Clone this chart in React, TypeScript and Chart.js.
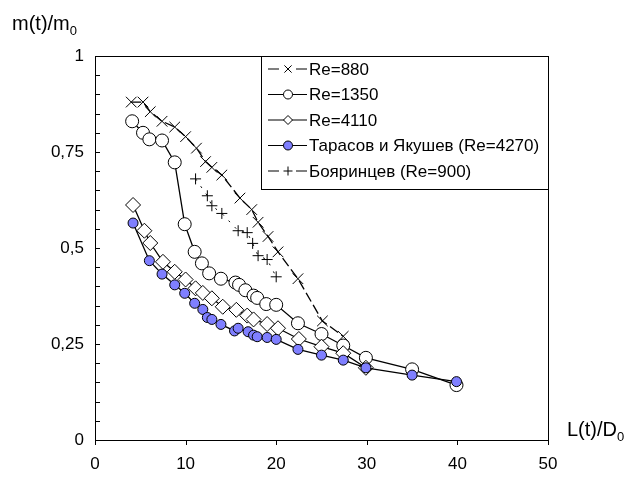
import React, { useEffect, useRef } from 'react';
import { Chart, registerables } from 'chart.js';

Chart.register(...registerables);

// ---------- data ----------
const re880X = [4.0, 5.3, 6.1, 7.4, 8.8, 10.0, 11.2, 12.2, 12.9, 14.0, 16.0, 17.3, 18.0, 19.1, 20.2, 22.4, 25.1, 27.4];
const re880Y = [0.88, 0.88, 0.855, 0.83, 0.815, 0.79, 0.76, 0.725, 0.71, 0.69, 0.63, 0.60, 0.567, 0.53, 0.49, 0.42, 0.31, 0.27];

const re1350X = [4.1, 5.3, 6.0, 7.4, 8.8, 9.9, 11.0, 11.8, 12.6, 13.9, 15.5, 15.9, 16.6, 17.5, 17.9, 18.9, 20.0, 22.4, 25.0, 27.4, 29.9, 35.0, 39.9];
const re1350Y = [0.83, 0.80, 0.783, 0.78, 0.723, 0.562, 0.49, 0.46, 0.434, 0.42, 0.41, 0.404, 0.39, 0.376, 0.37, 0.354, 0.352, 0.304, 0.276, 0.246, 0.214, 0.184, 0.143];

const re4110X = [4.2, 5.45, 6.1, 7.5, 8.8, 10.0, 11.1, 11.9, 12.9, 14.1, 15.6, 16.8, 17.5, 19.0, 20.2, 22.5, 25.0, 27.4, 29.9];
const re4110Y = [0.612, 0.545, 0.513, 0.464, 0.438, 0.418, 0.395, 0.383, 0.369, 0.347, 0.339, 0.324, 0.314, 0.302, 0.291, 0.263, 0.243, 0.226, 0.188];

const tarasovX = [4.2, 6.0, 7.4, 8.8, 9.9, 11.0, 11.9, 12.4, 12.9, 13.9, 15.4, 15.8, 16.9, 17.5, 17.9, 19.0, 20.0, 22.4, 25.0, 27.4, 29.9, 35.0, 39.9];
const tarasovY = [0.565, 0.467, 0.432, 0.404, 0.382, 0.356, 0.34, 0.319, 0.314, 0.301, 0.284, 0.291, 0.282, 0.273, 0.269, 0.267, 0.262, 0.236, 0.221, 0.208, 0.188, 0.169, 0.152];

const boyarX = [11.1, 12.4, 12.9, 14.0, 15.8, 16.8, 17.4, 18.0, 19.0, 20.0];
const boyarY = [0.68, 0.636, 0.61, 0.59, 0.545, 0.54, 0.512, 0.48, 0.47, 0.425];

const seriesNames = ['Re=880', 'Re=1350', 'Re=4110', 'Тарасов и Якушев (Re=4270)', 'Бояринцев (Re=900)'];

const xMin = 0, xMax = 50, xStep = 10;
const yMin = 0, yMax = 1, yMinorStep = 0.05, yMajorStep = 0.25;

const yAxisTitle = 'm(t)/m';
const yAxisSub = '0';
const xAxisTitle = 'L(t)/D';
const xAxisSub = '0';

const FONT = '"Liberation Sans", Arial, Helvetica, sans-serif';
const BLUE = '#7f7fff';

function pts(xs: number[], ys: number[]) {
  return xs.map((x, i) => ({ x, y: ys[i] }));
}

function drawMarker(ctx: CanvasRenderingContext2D, style: string, x: number, y: number, r: number, fill: string) {
  ctx.save();
  ctx.strokeStyle = '#000';
  ctx.lineWidth = 1;
  ctx.setLineDash([]);
  ctx.beginPath();
  if (style === 'circle') {
    ctx.arc(x, y, r, 0, Math.PI * 2);
    ctx.fillStyle = fill;
    ctx.fill();
    ctx.stroke();
  } else if (style === 'rectRot') {
    ctx.moveTo(x, y - r);
    ctx.lineTo(x + r, y);
    ctx.lineTo(x, y + r);
    ctx.lineTo(x - r, y);
    ctx.closePath();
    ctx.fillStyle = fill;
    ctx.fill();
    ctx.stroke();
  } else if (style === 'crossRot') {
    const d = r * 0.8;
    ctx.moveTo(x - d, y - d);
    ctx.lineTo(x + d, y + d);
    ctx.moveTo(x + d, y - d);
    ctx.lineTo(x - d, y + d);
    ctx.stroke();
  } else if (style === 'cross') {
    ctx.moveTo(x - r, y);
    ctx.lineTo(x + r, y);
    ctx.moveTo(x, y - r);
    ctx.lineTo(x, y + r);
    ctx.stroke();
  }
  ctx.restore();
}

const framePlugin = {
  id: 'frameAndLegend',
  afterDraw(chart: any) {
    const ctx: CanvasRenderingContext2D = chart.ctx;
    const { left, right, top, bottom } = chart.chartArea;
    const xs = chart.scales.x;
    const ys = chart.scales.y;
    ctx.save();
    // frame
    ctx.strokeStyle = '#000';
    ctx.lineWidth = 1;
    ctx.strokeRect(Math.round(left) + 0.5, Math.round(top) + 0.5, Math.round(right - left), Math.round(bottom - top));
    // y ticks (inside)
    ctx.beginPath();
    for (let v = yMin; v <= yMax + 1e-9; v += yMinorStep) {
      const py = Math.round(ys.getPixelForValue(v)) + 0.5;
      ctx.moveTo(left, py);
      ctx.lineTo(left + 5, py);
    }
    // x ticks (outside)
    for (let v = xMin; v <= xMax + 1e-9; v += xStep) {
      const px = Math.round(xs.getPixelForValue(v)) + 0.5;
      ctx.moveTo(px, bottom);
      ctx.lineTo(px, bottom + 5);
    }
    ctx.stroke();

    // axis titles
    ctx.fillStyle = '#000';
    ctx.textBaseline = 'alphabetic';
    ctx.textAlign = 'left';
    ctx.font = `20px ${FONT}`;
    ctx.fillText(yAxisTitle, 12, 30);
    let w = ctx.measureText(yAxisTitle).width;
    ctx.font = `13px ${FONT}`;
    ctx.fillText(yAxisSub, 12 + w, 35);

    ctx.font = `20px ${FONT}`;
    ctx.fillText(xAxisTitle, 567, 436);
    w = ctx.measureText(xAxisTitle).width;
    ctx.font = `13px ${FONT}`;
    ctx.fillText(xAxisSub, 567 + w, 441);

    // legend box
    const lx = left + 166;
    const ly = top;
    const lw = right - lx;
    const lh = 133;
    ctx.fillStyle = '#fff';
    ctx.fillRect(lx, ly, lw, lh);
    ctx.strokeStyle = '#000';
    ctx.lineWidth = 1;
    ctx.strokeRect(Math.round(lx) + 0.5, Math.round(ly) + 0.5, Math.round(lw), Math.round(lh));

    const datasets = chart.data.datasets;
    for (let i = 0; i < datasets.length; i++) {
      const ds = datasets[i];
      const cy = ly + 13 + i * 25.5;
      const x0 = lx + 7, x1 = lx + 46, mx = lx + 27;
      ctx.save();
      ctx.strokeStyle = '#000';
      ctx.lineWidth = 1.2;
      ctx.beginPath();
      if (ds.borderDash && ds.borderDash.length) {
        ctx.moveTo(x0, cy); ctx.lineTo(x0 + 11, cy);
        ctx.moveTo(x1 - 11, cy); ctx.lineTo(x1, cy);
      } else {
        ctx.moveTo(x0, cy); ctx.lineTo(x1, cy);
      }
      ctx.stroke();
      ctx.restore();
      drawMarker(ctx, ds.pointStyle, mx, cy, 4.5, ds.pointBackgroundColor);
      ctx.fillStyle = '#000';
      ctx.font = `17px ${FONT}`;
      ctx.textBaseline = 'middle';
      ctx.textAlign = 'left';
      ctx.fillText(ds.label, lx + 48, cy + 1);
    }
    ctx.restore();
  },
};

function fmtY(v: number) {
  const r = Math.round(v * 100) / 100;
  if (Math.abs((r / yMajorStep) - Math.round(r / yMajorStep)) > 1e-6) return '';
  return String(r).replace('.', ',');
}

export default function App() {
  const ref = useRef<HTMLCanvasElement | null>(null);
  useEffect(() => {
    if (!ref.current) return;
    const common = { showLine: true, borderColor: '#000', borderWidth: 1.3, pointBorderColor: '#000', pointBorderWidth: 1 };
    const chart = new Chart(ref.current, {
      type: 'scatter',
      data: {
        datasets: [
          { ...common, label: seriesNames[0], data: pts(re880X, re880Y), pointStyle: 'crossRot', pointRadius: 7.5, pointBackgroundColor: '#fff', borderDash: [10, 4], order: 3 },
          { ...common, label: seriesNames[1], data: pts(re1350X, re1350Y), pointStyle: 'circle', pointRadius: 6.5, pointBackgroundColor: '#fff', order: 2 },
          { ...common, label: seriesNames[2], data: pts(re4110X, re4110Y), pointStyle: 'rectRot', pointRadius: 7.5, pointBackgroundColor: '#fff', order: 1 },
          { ...common, label: seriesNames[3], data: pts(tarasovX, tarasovY), pointStyle: 'circle', pointRadius: 5, pointBackgroundColor: BLUE, order: 0 },
          { ...common, label: seriesNames[4], data: pts(boyarX, boyarY), pointStyle: 'cross', pointRadius: 5.5, pointBackgroundColor: '#fff', borderDash: [2, 7], borderWidth: 1, order: 4 },
        ] as any,
      },
      options: {
        animation: false,
        responsive: true,
        maintainAspectRatio: false,
        layout: { padding: { left: 0, right: 82, top: 56, bottom: 0 } },
        plugins: { legend: { display: false }, tooltip: { enabled: false } },
        scales: {
          x: {
            type: 'linear',
            min: xMin,
            max: xMax,
            grid: { display: false, drawTicks: false },
            border: { display: false },
            ticks: { stepSize: xStep, padding: 14, color: '#000', font: { family: FONT, size: 17 } },
            afterFit: (s: any) => { s.height = 37; },
          },
          y: {
            type: 'linear',
            min: yMin,
            max: yMax,
            grid: { display: false, drawTicks: false },
            border: { display: false },
            ticks: { stepSize: yMinorStep, padding: 11, color: '#000', font: { family: FONT, size: 17 }, autoSkip: false, callback: (v: any) => fmtY(Number(v)) },
            afterFit: (s: any) => { s.width = 95; },
          },
        },
      } as any,
      plugins: [framePlugin],
    });
    return () => chart.destroy();
  }, []);
  return (
    <div style={{ position: 'fixed', left: 0, top: 0, width: 630, height: 477, background: '#fff' }}>
      <canvas ref={ref} />
    </div>
  );
}
